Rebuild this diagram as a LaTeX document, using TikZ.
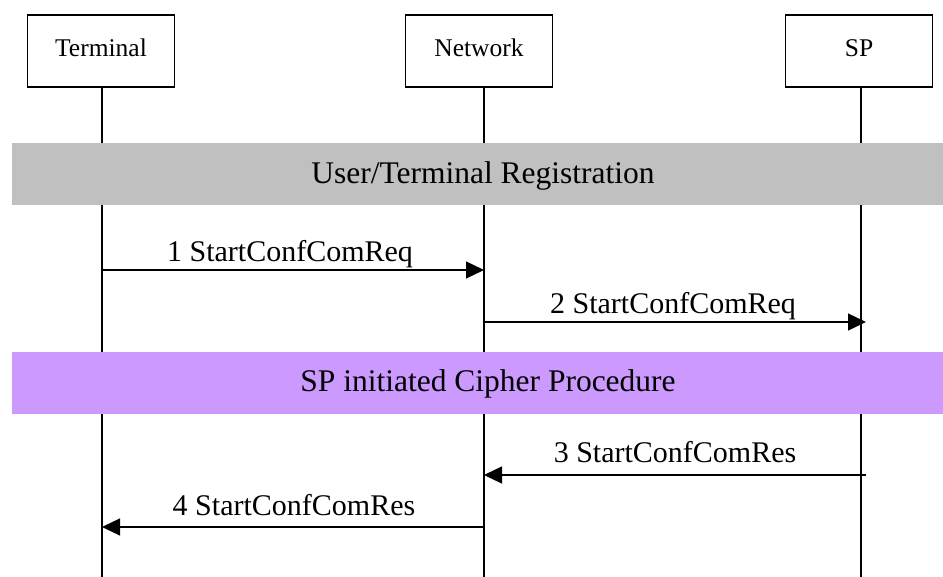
\documentclass[tikz,border=0pt]{standalone}
\usepackage{fontspec}
\setmainfont{Liberation Serif}
\usetikzlibrary{arrows.meta,calc}
\begin{document}
\begin{tikzpicture}[x=1pt,y=-1pt,
  actor/.style={draw,line width=1.2pt,minimum width=147pt,minimum height=72pt,inner sep=0pt},
  atext/.style={inner sep=0pt,font=\fontsize{25.5}{30}\selectfont},
  life/.style={line width=1.2pt},
  band/.style={inner sep=0pt,minimum width=931pt,minimum height=62pt},
  btext/.style={inner sep=0pt,font=\fontsize{31.5}{36}\selectfont},
  msg/.style={line width=1.3pt,-{Triangle[length=18pt,width=17pt]}},
  lbl/.style={anchor=base,inner sep=0pt,font=\fontsize{30}{36}\selectfont}]
\useasboundingbox (0,0) rectangle (943,577);
\fill[white] (0,0) rectangle (943,577);
% actors
\node[actor] (term) at (101,51) {};
\node[actor] (net) at (479,51) {};
\node[actor] (sp) at (859,51) {};
\node[atext] (termt) at (101,48) {Terminal};
\node[atext] (nett) at (479,48) {Network};
\node[atext] (spt) at (859,48) {SP};
% lifeline ends
\coordinate (tb) at (102,577);
\coordinate (nb) at (484,577);
\coordinate (sb) at (861,577);
\draw[life] (term.south -| tb) -- (tb);
\draw[life] (net.south -| nb) -- (nb);
\draw[life] (sp.south -| sb) -- (sb);
% bands
\node[band,fill={rgb,255:red,192;green,192;blue,192}] (reg) at (477.5,174) {};
\node[band,fill={rgb,255:red,204;green,153;blue,255}] (ciph) at (477.5,383) {};
\node[btext] (regt) at (483,176) {User/Terminal Registration};
\node[btext] (cipht) at (488,384) {SP initiated Cipher Procedure};
% message points
\coordinate (m1s) at (102,270); \coordinate (m1e) at (484,270);
\coordinate (m2s) at (484,322); \coordinate (m2e) at (866,322);
\coordinate (m3s) at (866,475); \coordinate (m3e) at (484,475);
\coordinate (m4s) at (484,527); \coordinate (m4e) at (102,527);
\draw[msg] (m1s) -- (m1e);
\draw[msg] (m2s) -- (m2e);
\draw[msg] (m3s) -- (m3e);
\draw[msg] (m4s) -- (m4e);
\node[lbl] (l1) at (290,262) {1 StartConfComReq};
\node[lbl] (l2) at (673,314) {2 StartConfComReq};
\node[lbl] (l3) at (675,462) {3 StartConfComRes};
\node[lbl] (l4) at (294,515) {4 StartConfComRes};
\end{tikzpicture}
\end{document}
